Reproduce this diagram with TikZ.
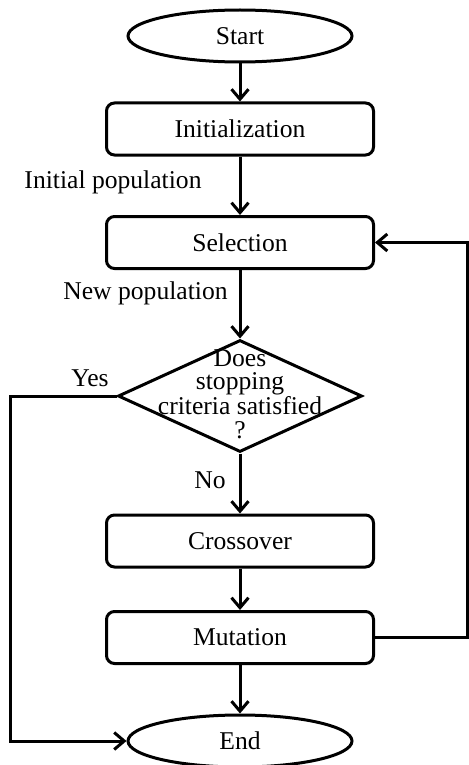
\documentclass[tikz,border=0pt]{standalone}
\usepackage{fontspec}
\setmainfont{Liberation Serif}
\usetikzlibrary{%
  positioning
 ,shapes
 ,arrows.meta
}
\tikzstyle{flow}=[node distance=40pt,on grid,line width=1.5pt,>={Straight Barb[length=5pt,width=8.5pt]},font=\fontsize{12.8}{10}\selectfont]
\tikzstyle{term}=[ellipse,draw,minimum width=112pt,minimum height=26pt,inner sep=0pt]
\tikzstyle{proc}=[rectangle,rounded corners=4pt,draw,minimum width=133.5pt,minimum height=26pt,inner sep=0pt]
\tikzstyle{test}=[diamond,draw,minimum width=122pt,minimum height=56pt,inner sep=0pt]
\tikzstyle{lbl}=[inner sep=0pt,align=center]

\begin{document}
\begin{tikzpicture}[flow]
      \useasboundingbox (0,0) rectangle (234.5pt,-382.5pt);
      \node[term] (start) at (120pt,-18pt) {Start};
      \node[proc] (init) [below=46.5pt of start] {Initialization};
      \node[proc] (sel) [below=56.75pt of init] {Selection};
      \node[test] (dec) [below=76.75pt of sel] {};
      \node[lbl,font=\fontsize{12.8}{11.6}\selectfont] (dectext) at (120pt,-197pt)
        {Does\\stopping\\criteria satisfied\\?};
      \node[proc] (cross) [below=72.5pt of dec] {Crossover};
      \node[proc] (mut) [below=48.25pt of cross] {Mutation};
      \node[term] (end) [below=51.75pt of mut] {End};
      % labels
      \node[lbl] (initpop) at (56.5pt,-91pt) {Initial population};
      \node[lbl] (newpop) at (72.75pt,-146.5pt) {New population};
      \node[lbl] (yes) at (45pt,-189pt) {Yes};
      \node[lbl] (no) at (105pt,-240pt) {No};
      \path[->]
        (start) edge (init)
        (init) edge (sel)
        (sel) edge (dec)
        (dec) edge (cross)
        (cross) edge (mut)
        (mut) edge (end);
      \draw[->] (mut.east) -- ++(46pt,0) |- (sel.east);
      \draw[->] (dec.west) -- ++(-53pt,0) |- (end.west);
    \end{tikzpicture}
\end{document}
